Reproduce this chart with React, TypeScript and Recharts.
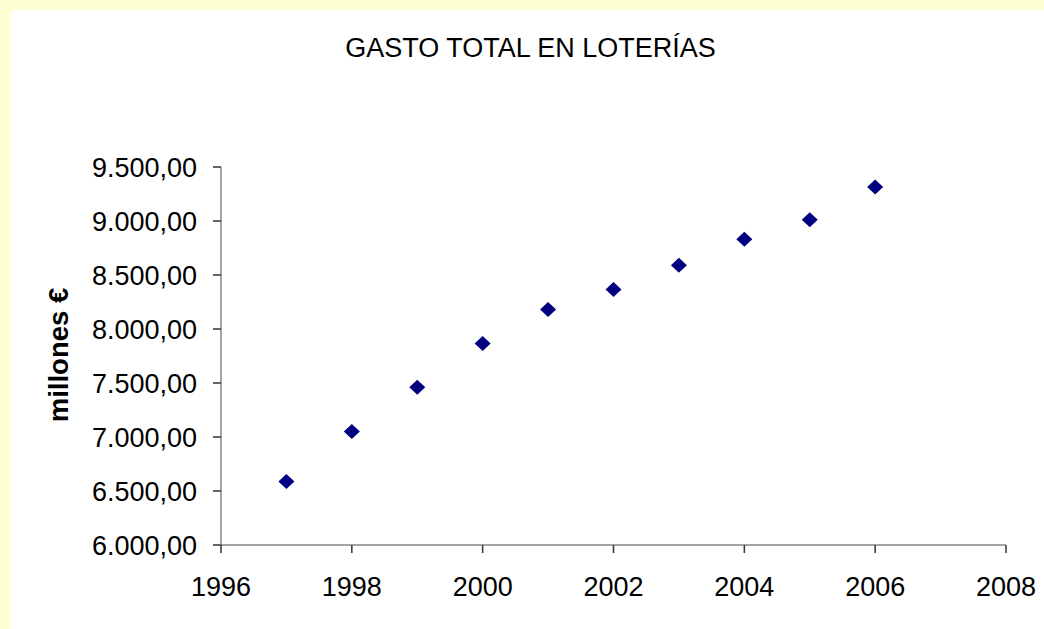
import React from 'react';
import { ScatterChart, Scatter, XAxis, YAxis } from 'recharts';

const years = [1997, 1998, 1999, 2000, 2001, 2002, 2003, 2004, 2005, 2006];
const gasto = [6588, 7052, 7460, 7866, 8180, 8365, 8590, 8830, 9012, 9315];
const xTicks = [1996, 1998, 2000, 2002, 2004, 2006, 2008];
const yTicks = [6000, 6500, 7000, 7500, 8000, 8500, 9000, 9500];

const data = years.map((y, i) => ({ year: y, value: gasto[i] }));

const FONT = '"Liberation Sans", Arial, sans-serif';

const fmt = (v: number) => {
  const intPart = Math.floor(v).toString().replace(/\B(?=(\d{3})+(?!\d))/g, '.');
  return intPart + ',00';
};

const Diamond = (props: any) => {
  const { cx, cy } = props;
  if (cx == null || cy == null) return null;
  const w = 8;
  const h = 7.5;
  return (
    <polygon
      points={`${cx},${cy - h} ${cx + w},${cy} ${cx},${cy + h} ${cx - w},${cy}`}
      fill="#000080"
    />
  );
};

export default function App() {
  return (
    <div style={{ position: 'absolute', left: 0, top: 0, width: 1044, height: 629, background: '#FFFFD4' }}>
      <div style={{ position: 'absolute', left: 11, top: 10, width: 1033, height: 619, background: '#FFFFFF' }} />
      <svg style={{ position: 'absolute', left: 0, top: 0 }} width={1044} height={629}>
        <text x={530.5} y={57} textAnchor="middle" fontFamily={FONT} fontSize={27} fill="#000">
          GASTO TOTAL EN LOTERÍAS
        </text>
        <text
          x={68}
          y={355}
          transform="rotate(-90, 68, 355)"
          textAnchor="middle"
          fontFamily={FONT}
          fontSize={27.5}
          fontWeight="bold"
          fill="#000"
        >
          millones €
        </text>
      </svg>
      <div style={{ position: 'absolute', left: 0, top: 0 }}>
        <ScatterChart width={1044} height={629} margin={{ top: 167, right: 38, bottom: 0, left: 0 }}>
          <XAxis
            type="number"
            dataKey="year"
            domain={[1996, 2008]}
            ticks={xTicks}
            interval={0}
            height={84}
            tickSize={8}
            tickMargin={24}
            axisLine={{ stroke: '#868686', strokeWidth: 1.5 }}
            tickLine={{ stroke: '#333333', strokeWidth: 1.5 }}
            tick={{ fill: '#000', fontSize: 27, fontFamily: FONT }}
          />
          <YAxis
            type="number"
            dataKey="value"
            domain={[6000, 9500]}
            ticks={yTicks}
            interval={0}
            width={221}
            tickSize={8}
            tickMargin={16}
            tickFormatter={fmt}
            axisLine={{ stroke: '#868686', strokeWidth: 1.5 }}
            tickLine={{ stroke: '#333333', strokeWidth: 1.5 }}
            tick={{ fill: '#000', fontSize: 27, fontFamily: FONT }}
          />
          <Scatter data={data} shape={<Diamond />} isAnimationActive={false} />
        </ScatterChart>
      </div>
    </div>
  );
}
